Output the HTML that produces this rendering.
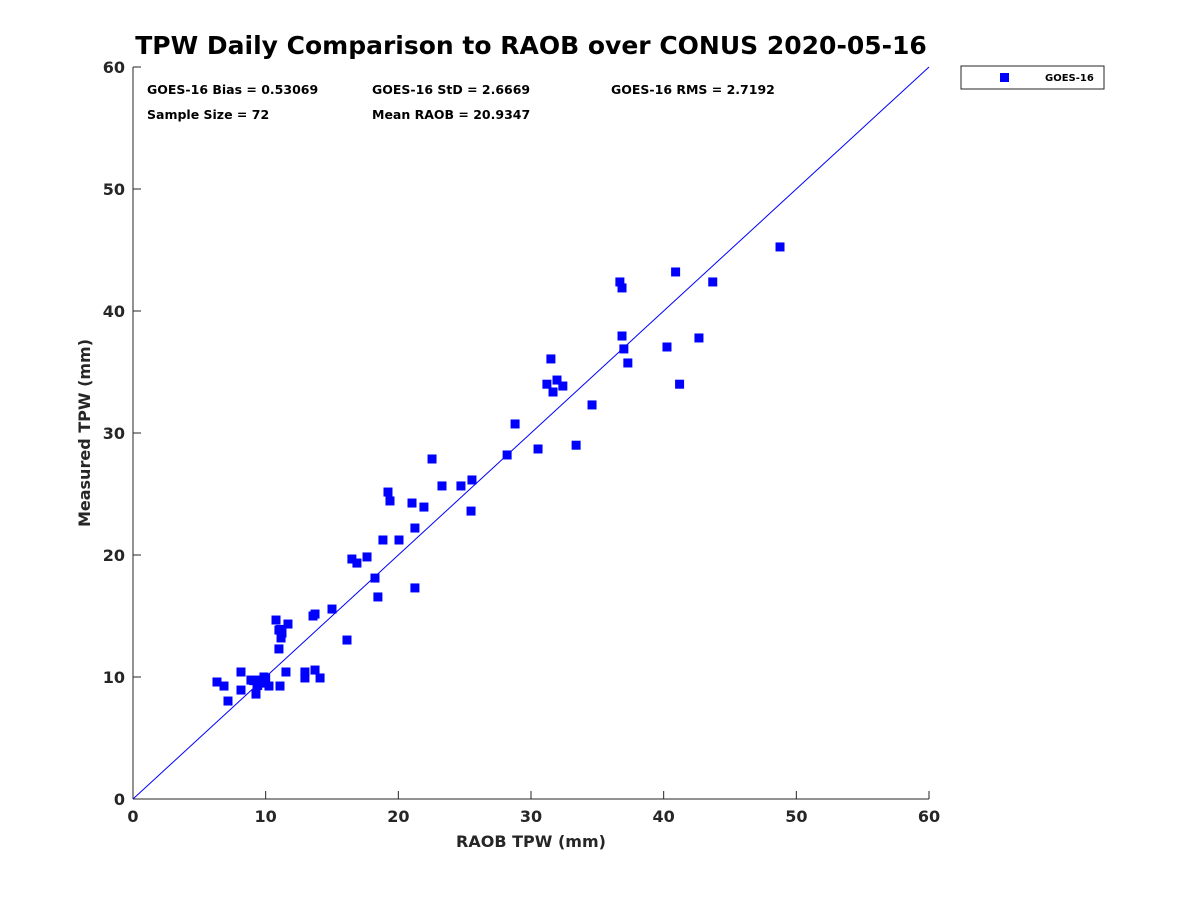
<!DOCTYPE html>
<html><head><meta charset="utf-8"><style>
body{margin:0;background:#fff;}
svg text{font-family:"DejaVu Sans","Liberation Sans",sans-serif;font-weight:bold;fill:#262626;}
</style></head><body>
<svg id="chart" width="1200" height="900" xmlns="http://www.w3.org/2000/svg">
<rect width="1200" height="900" fill="#fff"/>
<text x="531" y="54" text-anchor="middle" font-size="25" style="fill:#000">TPW Daily Comparison to RAOB over CONUS 2020-05-16</text>
<g id="axes"></g>
<g id="marks"></g>
<g font-size="12.5">
<text x="147" y="94" style="fill:#000">GOES-16 Bias = 0.53069</text>
<text x="372" y="94" style="fill:#000">GOES-16 StD = 2.6669</text>
<text x="611" y="94" style="fill:#000">GOES-16 RMS = 2.7192</text>
<text x="147" y="119" style="fill:#000">Sample Size = 72</text>
<text x="372" y="119" style="fill:#000">Mean RAOB = 20.9347</text>
</g>
<g>
<rect x="961" y="66" width="143" height="23" fill="#fff" stroke="#262626" stroke-width="1"/>
<rect x="1000" y="73" width="9" height="9" fill="#0000ff"/>
<text x="1045" y="81" font-size="10" style="fill:#000">GOES-16</text>
</g>
<text x="531" y="847" text-anchor="middle" font-size="16">RAOB TPW (mm)</text>
<text x="0" y="0" transform="translate(90,433) rotate(-90)" text-anchor="middle" font-size="16">Measured TPW (mm)</text>
</svg>
<script>
const raobX = [6.33,6.86,7.16,8.14,8.14,8.89,9.27,9.35,9.5,9.72,9.87,10.25,10.78,11.0,11.0,11.16,11.23,11.08,11.53,11.68,12.96,12.96,13.57,13.72,13.72,14.1,15.0,16.13,16.5,16.88,17.64,18.24,18.46,18.84,19.22,19.37,20.05,21.03,21.25,21.25,21.93,22.54,23.29,24.72,25.48,25.55,28.2,28.8,30.53,31.2,31.5,31.66,31.96,32.4,33.4,34.6,36.7,36.86,36.86,37.0,37.3,40.25,40.9,41.2,42.66,43.7,48.77,9.1,9.6,10.0,9.4,11.1];
const measuredY = [9.59,9.26,8.03,10.41,8.93,9.75,8.6,9.34,9.75,9.67,10.0,9.26,14.67,13.85,12.3,13.2,13.6,9.26,10.41,14.34,10.41,9.92,15.0,10.57,15.16,9.92,15.57,13.03,19.67,19.34,19.84,18.11,16.56,21.23,25.16,24.43,21.23,24.26,22.21,17.3,23.93,27.87,25.66,25.66,23.6,26.15,28.2,30.74,28.69,34.0,36.07,33.36,34.34,33.85,29.0,32.3,42.38,41.89,37.95,36.89,35.74,37.05,43.2,34.0,37.79,42.38,45.25,9.7,9.5,9.9,9.3,13.9];
const xTicks = [0,10,20,30,40,50,60];
const yTicks = [0,10,20,30,40,50,60];
const NS="http://www.w3.org/2000/svg";
const L=133,R=929,T=67,B=799;
const sx=v=>L+(v/60)*(R-L), sy=v=>B-(v/60)*(B-T);
function mk(tag,attrs,parent){const e=document.createElementNS(NS,tag);for(const k in attrs)e.setAttribute(k,attrs[k]);parent.appendChild(e);return e;}
const axes=document.getElementById('axes'), marks=document.getElementById('marks');
let a=mk('line',{x1:L,y1:B,x2:R,y2:B,stroke:'#262626','stroke-width':1},axes);


a=mk('line',{x1:L,y1:B,x2:L,y2:T,stroke:'#262626','stroke-width':1},axes);


xTicks.forEach(v=>{
 const t=mk('line',{x1:sx(v),y1:B,x2:sx(v),y2:B-8,stroke:'#262626'},axes);
 
 
 const tx=mk('text',{x:sx(v),y:B+23,'text-anchor':'middle','font-size':16},axes);tx.textContent=v;
 
 
});
yTicks.forEach(v=>{
 const t=mk('line',{x1:L,y1:sy(v),x2:L+8,y2:sy(v),stroke:'#262626'},axes);
 
 
 const tx=mk('text',{x:L-8,y:sy(v)+6,'text-anchor':'end','font-size':16},axes);tx.textContent=v;
 
 
});
const ol=mk('line',{x1:sx(0),y1:sy(0),x2:sx(60),y2:sy(60),stroke:'#0000ff','stroke-width':1},marks);


raobX.forEach((x,i)=>{
 const p=mk('rect',{x:sx(x)-4.5,y:sy(measuredY[i])-4.5,width:9,height:9,fill:'#0000ff'},marks);
 
 
});
</script>
</body></html>
